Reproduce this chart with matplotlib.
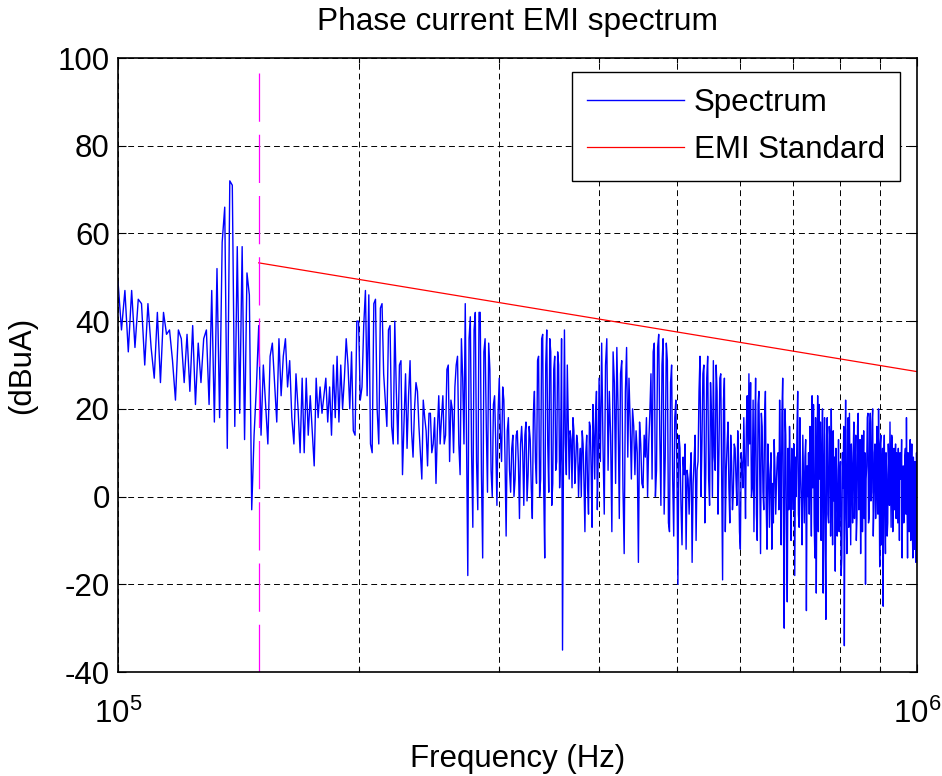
import numpy as np
import matplotlib
matplotlib.use("Agg")
import matplotlib.pyplot as plt
from matplotlib.ticker import FixedLocator, NullFormatter

plt.rcParams['font.family'] = ['Liberation Sans', 'DejaVu Sans']
plt.rcParams['mathtext.fontset'] = 'custom'
plt.rcParams['mathtext.rm'] = 'Liberation Sans'
plt.rcParams['mathtext.default'] = 'regular'
plt.rcParams['axes.unicode_minus'] = False

# spectrum, frequencies in kHz, levels in dBuA
freq_a = np.arange(100, 200, 1)
spec_a = [49, 38, 47, 33, 47, 34, 45, 44, 30, 44, 34, 27, 42, 26, 42, 37, 38, 31, 22, 38,
          36, 26, 37, 24, 39, 21, 35, 26, 36, 38,
          21, 47, 17, 52, 18, 58, 66, 11, 72, 71, 16, 57, 19, 57, 13, 51, 46, -3, 14, 25, 39,
          14, 30, 21, 12, 32, 35, 26, 17, 36, 23, 32, 36, 25, 31, 18, 12, 28, 20, 10, 27,
          10, 27, 14, 23, 15, 7, 27, 18, 25, 19, 23, 27, 17, 25, 14, 30, 18, 32, 17, 30,
          20, 27, 36, 30, 20, 33, 15, 14, 40]

freq_b = np.arange(200, 400, 1)
spec_b = [40, 22, 25, 39, 47, 23, 46, 12, 10, 44, 45, 20, 12, 43, 44, 28, 22, 16, 38, 39,
          16, 12, 40, 24, 12, 30, 31, 5, 17, 28, 11, 23, 31, 15, 9, 20, 26, 24, 16, 10,
          4, 22, 18, 15, 7, 19, 19, 10, 12, 18, 3, 15, 23, 12, 18, 23, 12, 14, 29, 30,
          8, 22, 20, 10, 25, 30, 32, 12, 5, 36, 27, 12, 44, 14, -18, 36, 41, 10, -7, 38,
          42, 8, -3, 42, 42, 5, -14, 33, 36, 16, 1, 35, 29, 6, 0, 21, 23, 12, -2, 19,
          27, 14, 8, 25, 22, 9, -9, 15, 18, 6, 1, 11, 14, 0, 4, 14, 15, 8, -5, 12,
          16, 10, -2, 14, 17, -1, 5, 16, 13, 2, -5, 19, 24, 8, 3, 31, 32, 0, 4, 36,
          37, 2, -14, 30, 38, 12, 1, 36, 33, -2, 3, 29, 32, 6, 8, 33, 30, 2, 9, 36,
          -35, 10, 38, 12, 5, 30, 17, 4, 15, 13, 2, 18, 15, 3, 8, 14, 12, 0, 7, 11,
          0, 15, 12, 3, -8, 10, 14, 2, -4, 17, 16, 6, -7, 21, 14, 4, 19, 24, -3, 9]

freq_c = np.arange(400, 1000.75, 1.5)
spec_c = [27, 8, 35, 12, -4, 30, 36, 6, 24, 14, -8, 33, 26, 3, 34, 20, -5, 28, 31, 2,
          -13, 24, 34, 9, 27, 17, 4, 20, 16, 5, 15, 10, -15, 17, 12, 3, 2, 14, 9, 18,
          0, 12, 19, 28, 4, 33, 35, 0, 6, 34, 37, 14, -2, 30, 36, -4, 9, 35, 31, -6,
          -8, 26, 30, 4, -9, 18, 22, 7, -20, 14, 11, -2, -11, 9, 5, 12, -12, 6, 4, -4,
          5, 10, -15, 3, 8, 14, -10, 6, 8, 24, 32, 0, 12, 28, 30, -6, 5, 27, 32, 4,
          -2, 26, 19, 0, 31, 9, 6, 30, 24, -4, 10, 27, 28, 3, -19, 22, 27, -8, 6, 12,
          17, 2, -6, 14, 8, -3, 1, 12, 11, 4, -2, 15, 8, -8, -12, 10, 7, 2, 18, 8,
          -5, 16, 23, 7, 28, 12, 26, 0, 2, 22, -8, 14, 27, -4, -10, 21, 24, 6, -13, 19,
          16, 1, -3, 18, 24, -2, -12, 12, 6, -7, 5, 10, -12, 3, -6, 13, 6, -4, 4, 9,
          10, -3, 22, 8, -11, 19, 27, -6, -30, 20, 14, -8, -24, 11, -3, 16, 4, -10, 11, 6,
          -3, 12, -18, 9, 0, 15, 24, -4, -7, 18, 5, -2, -11, 14, 4, -6, 9, 13, -26, 7,
          0, 10, -4, 16, 5, -9, 23, 2, 21, -6, -14, 18, -22, 8, 23, -8, 21, 4, 17, -10,
          8, 20, -22, 6, 18, -12, -28, 14, 18, -4, -6, 16, 13, -9, 20, 2, -11, 15, -1, 9,
          -17, 11, 6, -9, -2, 13, -8, 4, 8, -18, -14, 10, 2, 16, -34, 6, 22, -5, -13, 15,
          18, -7, 19, 3, -11, 12, 5, -6, 10, 17, -5, 8, 14, -10, -5, 16, 19, -3, 6, 13,
          -13, 9, 14, -8, 6, 15, -5, 10, -20, 4, 7, 18, 19, -6, -5, 14, 19, -1, 1, 17,
          20, -9, -2, 10, 12, -5, 0, 16, 8, -4, 20, 5, -16, 12, 14, -11, 6, 11, -25, 8,
          14, -3, -13, 10, 5, -9, -6, 12, 7, -2, 17, 4, -7, 14, 13, -8, 6, 11, -3, 8,
          12, -5, 10, 2, -6, 11, 3, -10, 10, 4, 5, 13, -14, 6, 7, -6, -3, 9, 11, -4,
          18, 2, -14, 10, 7, -8, 9, 13, -10, 5, 12, -7, -14, 9, 4, -12, 8, 2, -15, 10,
          0]

freq = np.concatenate([freq_a, freq_b, freq_c]) * 1e3
spec = np.array(spec_a + spec_b + spec_c)

# EMI limit line
emi_freq = [150e3, 1e6]
emi_level = [53.3, 28.5]

# start of the limit range
marker_freq = 150e3
marker_level = [96.5, -40]

fs = 22.5

fig = plt.figure(figsize=(9.42, 7.76), dpi=100)
ax = fig.add_axes([0.1253, 0.134, 0.8482, 0.7912])

ax.plot(freq, spec, color='#0000ff', lw=1.0, label='Spectrum')
ax.plot(emi_freq, emi_level, color='#ff0000', lw=0.9, label='EMI Standard')
ax.plot([marker_freq, marker_freq], marker_level, color='#ff00ff', lw=0.9, dashes=(38.6, 10.4))

ax.set_xscale('log')
ax.set_xlim(1e5, 1e6)
ax.set_ylim(-40, 100)
ax.set_yticks(np.arange(-40, 101, 20))
ax.xaxis.set_major_locator(FixedLocator([1e5, 1e6]))
ax.xaxis.set_minor_locator(FixedLocator(np.arange(2, 10) * 1e5))
ax.xaxis.set_minor_formatter(NullFormatter())

ax.grid(True, which='both', color='black', linestyle=(0, (6, 4)), lw=0.7)
ax.tick_params(which='both', direction='in', top=True, right=True, labelsize=fs)
ax.tick_params(which='major', length=6, width=0.8, pad=6)
ax.tick_params(which='minor', length=3.5, width=0.8)
ax.tick_params(axis='x', which='major', pad=19)
for sp in ax.spines.values():
    sp.set_linewidth(1.2)

ax.set_title('Phase current EMI spectrum', fontsize=22.8, pad=20)
ax.set_xlabel('Frequency (Hz)', fontsize=fs, labelpad=10)
ax.set_ylabel('(dBuA)', fontsize=fs, labelpad=15)

leg = ax.legend(loc='upper right', bbox_to_anchor=(0.979, 0.977), borderaxespad=0,
                fontsize=fs, handlelength=3.1, handletextpad=0.3, fancybox=False,
                framealpha=1, edgecolor='black', borderpad=0.5, labelspacing=0.55)
leg.get_frame().set_linewidth(1.0)

fig.savefig('out.png', dpi=100)
